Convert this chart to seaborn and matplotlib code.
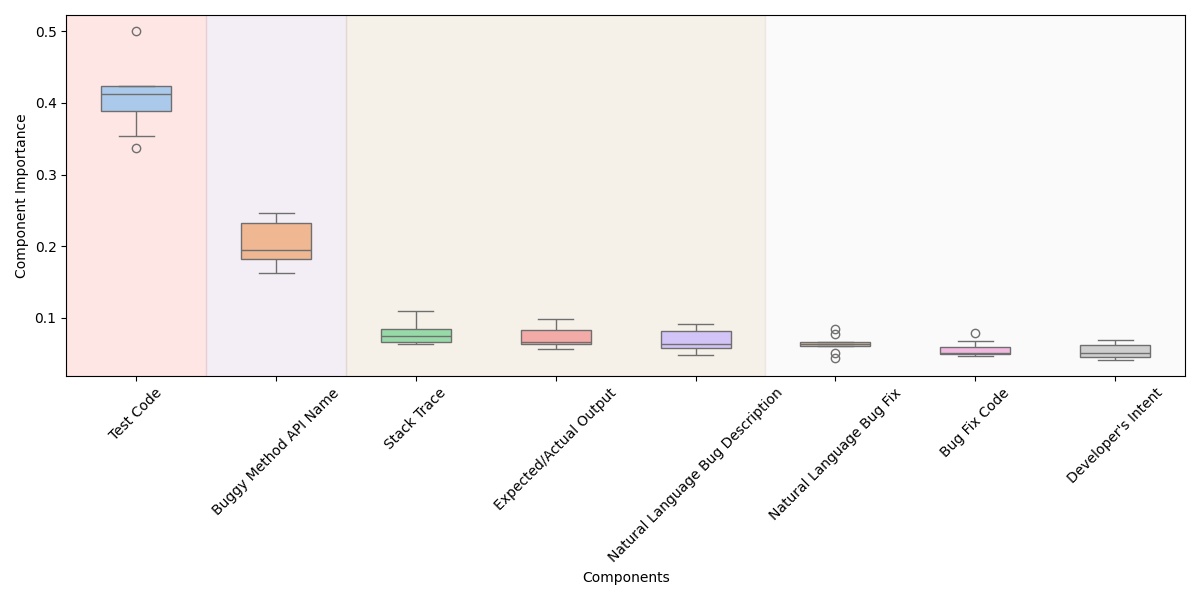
import numpy as np
import pandas as pd
import matplotlib
matplotlib.use("Agg")
import matplotlib.pyplot as plt
import seaborn as sns

components = [
    "Test Code",
    "Buggy Method API Name",
    "Stack Trace",
    "Expected/Actual Output",
    "Natural Language Bug Description",
    "Natural Language Bug Fix",
    "Bug Fix Code",
    "Developer's Intent",
]

test_code = [0.3365, 0.3532, 0.3895, 0.400, 0.4132, 0.418, 0.4243, 0.4243, 0.500]
buggy_method = [0.162, 0.175, 0.182, 0.188, 0.194, 0.215, 0.233, 0.240, 0.247]
stack_trace = [0.063, 0.065, 0.066, 0.070, 0.074, 0.080, 0.084, 0.095, 0.109]
expected_actual = [0.056, 0.060, 0.063, 0.065, 0.066, 0.075, 0.083, 0.090, 0.098]
nl_bug_desc = [0.048, 0.053, 0.058, 0.060, 0.063, 0.072, 0.0815, 0.086, 0.091]
nl_bug_fix = [0.0438, 0.0508, 0.0606, 0.062, 0.0637, 0.065, 0.0661, 0.0775, 0.0845]
bug_fix_code = [0.047, 0.048, 0.0497, 0.050, 0.0503, 0.055, 0.0592, 0.0675, 0.0786]
dev_intent = [0.0411, 0.043, 0.0452, 0.048, 0.0512, 0.056, 0.062, 0.066, 0.0689]

series = [test_code, buggy_method, stack_trace, expected_actual,
          nl_bug_desc, nl_bug_fix, bug_fix_code, dev_intent]

# background groups: (first index, last index, colour)
groups = [(0, 0, "#f5827a"), (1, 1, "#c3aacd"), (2, 4, "#cdb48c"), (5, 7, "#e6e6e6")]

rows = []
for name, vals in zip(components, series):
    for v in vals:
        rows.append({"Components": name, "Component Importance": v})
df = pd.DataFrame(rows)

fig, ax = plt.subplots(figsize=(12, 6), dpi=100)

for a, b, c in groups:
    ax.axvspan(a - 0.5, b + 0.5, color=c, alpha=0.2, zorder=0)

sns.boxplot(data=df, x="Components", y="Component Importance", hue="Components",
            order=components, hue_order=components, palette="pastel",
            width=0.5, legend=False, ax=ax)

ax.set_xlim(-0.5, len(components) - 0.5)
ax.tick_params(axis="x", rotation=45)
ax.set_xlabel("Components")
ax.set_ylabel("Component Importance")

fig.tight_layout()
fig.savefig("out.png", dpi=100)
